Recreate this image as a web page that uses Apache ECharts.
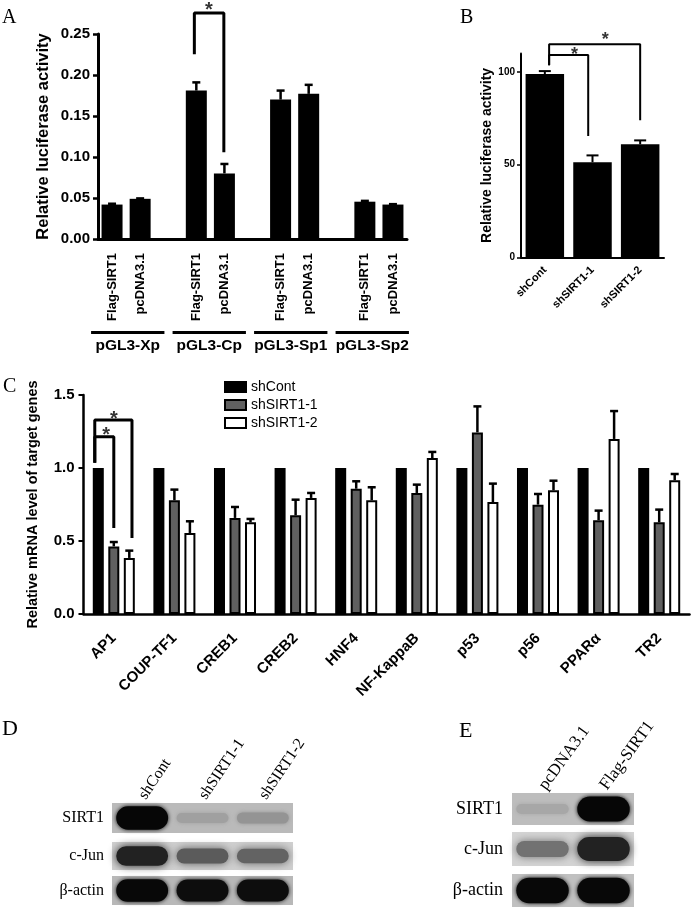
<!DOCTYPE html>
<html><head><meta charset="utf-8">
<script src="https://cdn.jsdelivr.net/npm/echarts@6/dist/echarts.min.js"></script>
<style>html,body{margin:0;padding:0;background:#fff}#c{width:700px;height:911px}</style>
</head><body><div id="c"></div>
<script>
// ---------- Panel A ----------
const aGroups = ['pGL3-Xp', 'pGL3-Cp', 'pGL3-Sp1', 'pGL3-Sp2'];
const aConditions = ['Flag-SIRT1', 'pcDNA3.1'];
const aFlagMeans = [0.042, 0.181, 0.170, 0.0455];
const aFlagErrs = [0.001, 0.010, 0.011, 0.001];
const aPcMeans = [0.049, 0.080, 0.177, 0.042];
const aPcErrs = [0.0005, 0.0115, 0.011, 0.0005];
const aBracket = [[2.93, 0.227], [2.93, 0.2756], [3.98, 0.2756], [3.98, 0.1077]];
const aStar = [[3.45, 0.279]];

// ---------- Panel B ----------
const bCategories = ['shCont', 'shSIRT1-1', 'shSIRT1-2'];
const bMeans = [98.9, 51.3, 61.0];
const bErrs = [1.6, 3.7, 2.1];
const bTicks = [0, 50, 100];
const bBracket1 = [[0.09, 104.2], [0.09, 109.2], [0.91, 109.2], [0.91, 66]];
const bBracket2 = [[0.09, 104.2], [0.09, 115], [2.0, 115], [2.0, 74.5]];
const bStars = [[0.62, 109.2], [1.27, 117.3]];

// ---------- Panel C ----------
const cGenes = ['AP1', 'COUP-TF1', 'CREB1', 'CREB2', 'HNF4', 'NF-KappaB', 'p53', 'p56', 'PPARα', 'TR2'];
const cSeriesNames = ['shCont', 'shSIRT1-1', 'shSIRT1-2'];
const cShCont = [1, 1, 1, 1, 1, 1, 1, 1, 1, 1];
const cSh1 = [0.463, 0.779, 0.658, 0.676, 0.858, 0.829, 1.244, 0.749, 0.642, 0.628];
const cSh1Err = [0.030, 0.073, 0.075, 0.107, 0.051, 0.057, 0.178, 0.073, 0.066, 0.087];
const cSh2 = [0.384, 0.555, 0.628, 0.795, 0.779, 1.068, 0.767, 0.847, 1.199, 0.916];
const cSh2Err = [0.050, 0.080, 0.023, 0.034, 0.089, 0.042, 0.126, 0.066, 0.191, 0.043];
const cBracket1 = [[-0.314, 1.047], [-0.314, 1.214], [0.0, 1.214], [0.0, 0.60]];
const cBracket2 = [[-0.314, 1.047], [-0.314, 1.329], [0.30, 1.329], [0.30, 0.531]];
const cStars = [[-0.127, 1.225], [0.0, 1.329]];

// ---------- Panels D / E (western blot band intensities, 0..1) ----------
const dLanes = ['shCont', 'shSIRT1-1', 'shSIRT1-2'];
const dRows = ['SIRT1', 'c-Jun', 'β-actin'];
const dSIRT1 = [0.97, 0.16, 0.22];
const dCJun = [0.82, 0.52, 0.48];
const dActin = [0.96, 0.93, 0.93];
const eLanes = ['pcDNA3.1', 'Flag-SIRT1'];
const eRows = ['SIRT1', 'c-Jun', 'β-actin'];
const eSIRT1 = [0.12, 0.97];
const eCJun = [0.40, 0.82];
const eActin = [0.96, 0.96];

// ---------- build ----------
const SANS = 'Liberation Sans';
const SERIF = 'Liberation Serif';
const aCats = [], aVals = [], aErrItems = [];
aGroups.forEach((g, i) => {
  const means = [aFlagMeans[i], aPcMeans[i]];
  const errs = [aFlagErrs[i], aPcErrs[i]];
  aConditions.forEach((c, j) => {
    aErrItems.push([aCats.length, means[j], errs[j]]);
    aCats.push(c); aVals.push(means[j]);
  });
  if (i < aGroups.length - 1) { aCats.push(''); aVals.push('-'); }
});

function errRender(offsetPx, cap, lw) {
  return function (params, api) {
    const x = api.value(0), m = api.value(1), e = api.value(2);
    const p0 = api.coord([x, m]);
    const p1 = api.coord([x, m + e]);
    const cx = p0[0] + offsetPx;
    const st = { stroke: '#000', lineWidth: lw };
    return { type: 'group', children: [
      { type: 'line', shape: { x1: cx, y1: p0[1], x2: cx, y2: p1[1] }, style: st },
      { type: 'line', shape: { x1: cx - cap, y1: p1[1], x2: cx + cap, y2: p1[1] }, style: st }
    ] };
  };
}
function bandRender(blur) {
  return function (params, api) {
    const I = api.value(2);
    const c = api.coord([api.value(0), 0]);
    const s = api.size([1, 1]);
    const w = s[0] * 0.86, h = s[1] * (0.25 + 0.55 * I);
    const g = Math.round(190 * (1 - I));
    const col = 'rgb(' + g + ',' + g + ',' + g + ')';
    return { type: 'rect', shape: { x: c[0] - w / 2, y: c[1] - h / 2, width: w, height: h, r: h / 2 },
      style: { fill: col, shadowBlur: blur, shadowColor: col } };
  };
}

const grid = [
  { left: 98, top: 34, width: 309, height: 205 },            // 0 A
  { left: 87, top: 331, width: 326, height: 3 },             // 1 A groups
  { left: 521, top: 53.5, width: 143, height: 203.8 },       // 2 B
  { left: 83.5, top: 395, width: 606, height: 219 },         // 3 C
  { left: 112, top: 803, width: 181, height: 30, show: true, backgroundColor: '#bababa', borderWidth: 0 }, // 4
  { left: 112, top: 842, width: 181, height: 28, show: true, backgroundColor: '#d0d0d0', borderWidth: 0 }, // 5
  { left: 112, top: 876, width: 181, height: 29, show: true, backgroundColor: '#b8b8b8', borderWidth: 0 }, // 6
  { left: 512, top: 793, width: 122, height: 32, show: true, backgroundColor: '#bdbdbd', borderWidth: 0 }, // 7
  { left: 512, top: 832, width: 122, height: 34, show: true, backgroundColor: '#d4d4d4', borderWidth: 0 }, // 8
  { left: 512, top: 874, width: 122, height: 33, show: true, backgroundColor: '#c0c0c0', borderWidth: 0 }  // 9
];

const hiddenVal = (gi, min, max) => ({ type: 'value', gridIndex: gi, min, max, show: false, axisLine: { onZero: false } });
const blotX = (gi, lanes, showTop, rot, fs) => ({
  type: 'category', gridIndex: gi, data: lanes, position: 'top', show: showTop,
  axisLine: { show: false, onZero: false }, axisTick: { show: false },
  axisLabel: { show: showTop, rotate: rot, margin: 5, interval: 0, fontFamily: SERIF, fontSize: fs, color: '#000' }
});
const blotY = (gi, name, fs, margin) => ({
  type: 'category', gridIndex: gi, data: [name],
  axisLine: { show: false, onZero: false }, axisTick: { show: false },
  axisLabel: { fontFamily: SERIF, fontSize: fs, color: '#000', margin }
});

const xAxis = [
  { type: 'category', gridIndex: 0, data: aCats,
    axisLine: { onZero: false, lineStyle: { color: '#000', width: 3 } }, axisTick: { show: false },
    axisLabel: { rotate: 90, interval: 0, margin: 14, fontSize: 13, fontWeight: 'bold', color: '#000', fontFamily: SANS } }, // 0
  hiddenVal(0, -0.5, 10.5), // 1
  { type: 'category', gridIndex: 1, data: aGroups, axisLine: { show: false, onZero: false }, axisTick: { show: false },
    axisLabel: { interval: 0, margin: 4, fontSize: 15.5, fontWeight: 'bold', color: '#000', fontFamily: SANS } }, // 2
  { type: 'category', gridIndex: 2, data: bCategories,
    axisLine: { onZero: false, lineStyle: { color: '#000', width: 2 } },
    axisTick: { alignWithLabel: true, length: 4, lineStyle: { color: '#000', width: 1.5 } },
    axisLabel: { rotate: 45, interval: 0, margin: 11, fontSize: 11, fontWeight: 'bold', color: '#000', fontFamily: SANS } }, // 3
  hiddenVal(2, -0.5, 2.5), // 4
  { type: 'category', gridIndex: 3, data: cGenes,
    axisLine: { onZero: false, lineStyle: { color: '#000', width: 2.5 } },
    axisTick: { alignWithLabel: true, length: 6, lineStyle: { color: '#000', width: 2 } },
    axisLabel: { rotate: 45, interval: 0, margin: 22, fontSize: 15, fontWeight: 'bold', color: '#000', fontFamily: SANS } }, // 5
  hiddenVal(3, -0.5, 9.5), // 6
  blotX(4, dLanes, true, -56, 16), blotX(5, dLanes, false, 0, 16), blotX(6, dLanes, false, 0, 16), // 7,8,9
  blotX(7, eLanes, true, -54, 17), blotX(8, eLanes, false, 0, 17), blotX(9, eLanes, false, 0, 17)  // 10,11,12
];

const yAxis = [
  { type: 'value', gridIndex: 0, min: 0, max: 0.25, interval: 0.05, splitLine: { show: false },
    name: 'Relative luciferase activity', nameLocation: 'middle', nameGap: 46.5,
    nameTextStyle: { fontSize: 16.5, fontWeight: 'bold', color: '#000', fontFamily: SANS },
    axisLine: { show: true, onZero: false, lineStyle: { color: '#000', width: 3 } },
    axisTick: { show: true, length: 5, lineStyle: { color: '#000', width: 2.5 } },
    axisLabel: { margin: 8, fontSize: 15, fontWeight: 'bold', color: '#000', fontFamily: SANS, formatter: v => v.toFixed(2) } }, // 0
  { type: 'value', gridIndex: 1, min: 0, max: 1, show: false, axisLine: { onZero: false } }, // 1
  { type: 'value', gridIndex: 2, min: 0, max: 110, splitLine: { show: false },
    name: 'Relative luciferase activity', nameLocation: 'middle', nameGap: 27,
    nameTextStyle: { fontSize: 14, fontWeight: 'bold', color: '#000', fontFamily: SANS },
    axisLine: { show: true, onZero: false, lineStyle: { color: '#000', width: 2 } },
    axisTick: { show: true, length: 4, customValues: bTicks, lineStyle: { color: '#000', width: 1.5 } },
    axisLabel: { margin: 6, fontSize: 10, fontWeight: 'bold', color: '#000', fontFamily: SANS, customValues: bTicks } }, // 2
  { type: 'value', gridIndex: 3, min: 0, max: 1.5, interval: 0.5, splitLine: { show: false },
    name: 'Relative mRNA level of target genes', nameLocation: 'middle', nameGap: 43,
    nameTextStyle: { fontSize: 14.5, fontWeight: 'bold', color: '#000', fontFamily: SANS },
    axisLine: { show: true, onZero: false, lineStyle: { color: '#000', width: 2.5 } },
    axisTick: { show: true, length: 5, lineStyle: { color: '#000', width: 2 } },
    axisLabel: { margin: 9, fontSize: 15, fontWeight: 'bold', color: '#000', fontFamily: SANS, formatter: v => v.toFixed(1) } }, // 3
  blotY(4, dRows[0], 16, 8), blotY(5, dRows[1], 16, 8), blotY(6, dRows[2], 16, 8), // 4,5,6
  blotY(7, eRows[0], 18, 9), blotY(8, eRows[1], 18, 9), blotY(9, eRows[2], 18, 9)  // 7,8,9
];

const bracketLine = (xi, yi, data, w) => ({ type: 'line', xAxisIndex: xi, yAxisIndex: yi, data, symbol: 'none', clip: false,
  silent: true, z: 5, lineStyle: { color: '#000', width: w, cap: 'square' } });
const stars = (xi, yi, data, fs) => ({ type: 'scatter', xAxisIndex: xi, yAxisIndex: yi, data, symbolSize: 1, clip: false,
  silent: true, z: 6, itemStyle: { color: 'transparent' },
  label: { show: true, position: 'inside', formatter: '*', fontSize: fs, fontWeight: 'bold', color: '#000', fontFamily: SANS } });

const cColors = ['#000000', '#606060', '#ffffff'];
const cVals = [cShCont, cSh1, cSh2];
const cOffsets = [-15.5, 0, 15.5];

const series = [
  { type: 'bar', xAxisIndex: 0, yAxisIndex: 0, data: aVals, barWidth: 21, itemStyle: { color: '#000' } },
  { type: 'custom', xAxisIndex: 0, yAxisIndex: 0, data: aErrItems, renderItem: errRender(0, 4, 2.5), z: 3 },
  bracketLine(1, 0, aBracket, 3),
  stars(1, 0, aStar, 20),
  { type: 'bar', xAxisIndex: 2, yAxisIndex: 1, data: aGroups.map(() => 1), barCategoryGap: '10%', itemStyle: { color: '#000' }, silent: true },
  { type: 'bar', xAxisIndex: 3, yAxisIndex: 2, data: bMeans, barWidth: 38.5, itemStyle: { color: '#000' } },
  { type: 'custom', xAxisIndex: 3, yAxisIndex: 2, data: bMeans.map((m, i) => [i, m, bErrs[i]]), renderItem: errRender(0, 6, 2), z: 3 },
  bracketLine(4, 2, bBracket1, 2),
  bracketLine(4, 2, bBracket2, 2),
  stars(4, 2, bStars, 18)
];
cSeriesNames.forEach((n, k) => {
  series.push({ type: 'bar', name: n, xAxisIndex: 5, yAxisIndex: 3, data: cVals[k], barWidth: 11, barGap: '41%',
    itemStyle: { color: cColors[k], borderColor: '#000', borderWidth: 2 } });
});
[[cSh1, cSh1Err, 1], [cSh2, cSh2Err, 2]].forEach(([v, e, k]) => {
  series.push({ type: 'custom', xAxisIndex: 5, yAxisIndex: 3, data: v.map((m, i) => [i, m, e[i]]),
    renderItem: errRender(cOffsets[k], 4, 2.5), z: 3 });
});
series.push(bracketLine(6, 3, cBracket1, 3), bracketLine(6, 3, cBracket2, 3), stars(6, 3, cStars, 20));
const blots = [[dSIRT1, 7, 4, 4], [dCJun, 8, 5, 8], [dActin, 9, 6, 4], [eSIRT1, 10, 7, 4], [eCJun, 11, 8, 8], [eActin, 12, 9, 4]];
blots.forEach(([vals, xi, yi, blur]) => {
  series.push({ type: 'custom', xAxisIndex: xi, yAxisIndex: yi, data: vals.map((v, i) => [i, 0, v]), renderItem: bandRender(blur), silent: true });
});

const letter = (t, l, tp, fs) => ({ text: t, left: l, top: tp, padding: 0,
  textStyle: { fontFamily: SERIF, fontSize: fs, fontWeight: 'normal', color: '#000' } });

const option = {
  backgroundColor: '#fff',
  animation: false,
  textStyle: { fontFamily: SANS },
  title: [letter('A', 2, 8, 20), letter('B', 460, 8, 20), letter('C', 3, 377, 20), letter('D', 2, 718, 22), letter('E', 459, 720, 22)],
  legend: { data: cSeriesNames, orient: 'vertical', left: 219, top: 375, itemWidth: 21, itemHeight: 10, itemGap: 4,
    icon: 'rect', textStyle: { fontSize: 14, color: '#000', fontFamily: SANS } },
  grid, xAxis, yAxis, series
};
const chart = echarts.init(document.getElementById('c'), null, { renderer: 'canvas' });
chart.setOption(option);
</script></body></html>
